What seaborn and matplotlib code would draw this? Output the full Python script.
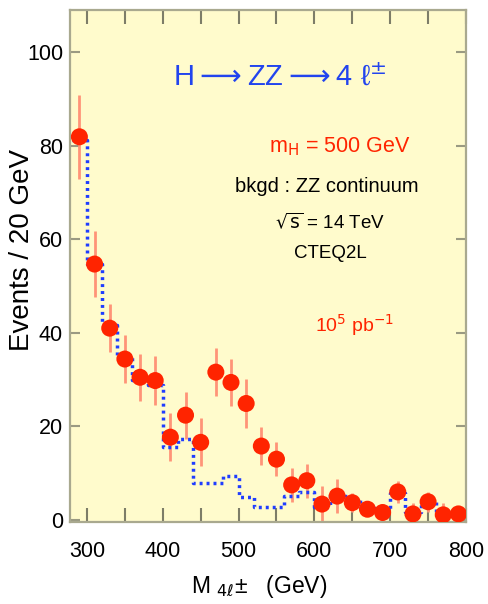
import numpy as np
import pandas as pd
import matplotlib
matplotlib.use("Agg")
import matplotlib.pyplot as plt
import seaborn as sns

# ---- data -------------------------------------------------------------
mass = [290, 310, 330, 350, 370, 390, 410, 430, 450, 470, 490, 510, 530,
        550, 570, 590, 610, 630, 650, 670, 690, 710, 730, 750, 770, 790]
events = [81.9, 54.7, 41.0, 34.4, 30.5, 29.8, 17.7, 22.4, 16.6, 31.6, 29.4,
          24.9, 15.8, 13.0, 7.5, 8.4, 3.4, 5.1, 3.7, 2.3, 1.6, 6.0, 1.3,
          3.9, 1.1, 1.3]
errors = [9.0, 7.0, 5.2, 5.2, 5.0, 5.2, 5.1, 5.0, 5.1, 5.2, 5.1, 5.2, 4.0,
          3.6, 3.7, 3.6, 3.9, 3.7, 2.0, 1.5, 1.3, 2.4, 2.3, 2.1, 2.5, 1.5]
background = [81.2, 54.7, 41.7, 35.2, 30.0, 28.8, 15.7, 17.3, 7.9, 7.9, 9.5,
              4.9, 2.8, 2.8, 5.1, 6.0, 2.7, 5.7, 4.3, 2.5, 2.2, 5.8, 1.8,
              3.9, 1.4, 1.2]
bin_width = 20
x_ticks = [300, 400, 500, 600, 700, 800]
y_ticks = [0, 20, 40, 60, 80, 100]

# ---- style ------------------------------------------------------------
sns.set_style("ticks")
plt.rcParams["font.family"] = ["Liberation Sans", "DejaVu Sans"]
plt.rcParams["text.color"] = "black"

W, H = 488, 604
fig = plt.figure(figsize=(W / 100, H / 100), dpi=100)
fig.patch.set_facecolor("white")
ax = fig.add_axes([70 / W, (H - 522) / H, (466 - 70) / W, (522 - 10) / H])
ax.set_facecolor("#fffbcc")

edge_col = "#a9a98f"
for s in ax.spines.values():
    s.set_color(edge_col)
    s.set_linewidth(1.6)

# background histogram (dotted step)
edges = [m - bin_width / 2 for m in mass] + [mass[-1] + bin_width / 2]
bkg_df = pd.DataFrame({"x": edges, "y": background + [background[-1]]})
sns.lineplot(data=bkg_df, x="x", y="y", drawstyle="steps-post",
             color="#1f3dff", linewidth=2.5, linestyle=(0, (0.85, 1.15)),
             errorbar=None, sort=False, ax=ax, zorder=2.5)

# error bars
ax.errorbar(mass, events, yerr=errors, fmt="none", ecolor="#ff9478",
            elinewidth=2.0, capsize=0, zorder=2)

# data points
pts = pd.DataFrame({"m": mass, "n": events})
sns.scatterplot(data=pts, x="m", y="n", color="#ff2400", s=150,
                edgecolor="none", linewidth=0, ax=ax, zorder=3)

ax.set_xlim(277.6, 800)
ax.set_ylim(-0.43, 109)
ax.set_xticks(x_ticks)
ax.set_xticks([350, 450, 550, 650, 750], minor=True)
ax.set_yticks(y_ticks)
ax.tick_params(axis="x", which="both", direction="in", length=10, width=1.5,
               color="#7d7d68", top=True, bottom=True, pad=14, labelsize=15.5,
               labelcolor="black")
ax.tick_params(axis="y", which="both", direction="in", length=7, width=1.5,
               color="#9a9a82", left=True, right=True, pad=5, labelsize=15.5,
               labelcolor="black")
ax.set_xlabel("")
ax.set_ylabel("")

# axis labels
fig.text(22 / W, 1 - 250 / H, "Events / 20 GeV", rotation=90,
         ha="center", va="center", fontsize=20)
fig.text(191 / W, 1 - 593 / H, r"M $_{4\ell}$±   (GeV)", ha="left",
         va="baseline", fontsize=16.5)

# annotations
fig.text(280 / W, 1 - 86 / H,
         r"H$\longrightarrow$ZZ$\longrightarrow$4 ℓ$^{\pm}$",
         color="#2244ee", ha="center", va="baseline", fontsize=21)
fig.text(340 / W, 1 - 152 / H, r"m$_{\mathrm{H}}$ = 500 GeV", color="#ff2400",
         ha="center", va="baseline", fontsize=15.5)
fig.text(327 / W, 1 - 192 / H, "bkgd : ZZ continuum",
         ha="center", va="baseline", fontsize=14.5)
fig.text(330 / W, 1 - 228 / H, r"$\sqrt{\mathrm{s}}$ = 14 TeV",
         ha="center", va="baseline", fontsize=13.5)
fig.text(330 / W, 1 - 258 / H, "CTEQ2L",
         ha="center", va="baseline", fontsize=13.5)
fig.text(355 / W, 1 - 332 / H, r"10$^{5}$ pb$^{-1}$", color="#ff2400",
         ha="center", va="baseline", fontsize=14)

fig.savefig("out.png", dpi=100)
